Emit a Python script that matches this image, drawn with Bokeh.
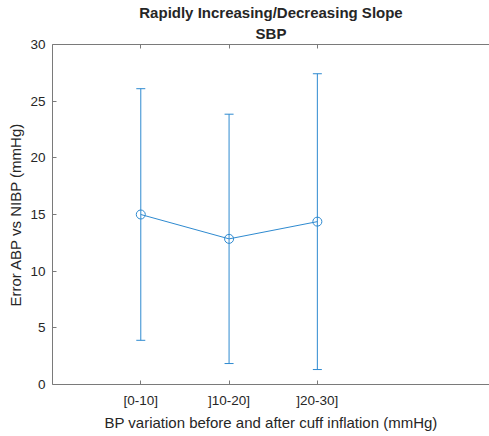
from bokeh.plotting import figure
from bokeh.models import (ColumnDataSource, Whisker, TeeHead, FixedTicker, LinearAxis,
                          Range1d, Title)
from bokeh.embed import file_html
from bokeh.resources import INLINE

categories = ["[0-10]", "]10-20]", "]20-30]"]
positions = [1, 2, 3]
mean_error = [15.0, 12.85, 14.37]
sd_error = [11.1, 11.0, 13.05]
y_ticks = [0, 5, 10, 15, 20, 25, 30]
title_lines = ["Rapidly Increasing/Decreasing Slope", "SBP"]

BLUE = "#2E8AD0"
AX = "#7a7a7a"
TXT = "#262626"
FONT = "Liberation Sans"

src = ColumnDataSource(dict(
    x=positions, y=mean_error,
    upper=[m + s for m, s in zip(mean_error, sd_error)],
    lower=[m - s for m, s in zip(mean_error, sd_error)],
))

p = figure(width=489, height=436, output_backend="svg", toolbar_location=None,
           x_range=Range1d(0, 4.95), y_range=Range1d(0, 30),
           min_border_left=52, min_border_right=0, min_border_top=44, min_border_bottom=52)
p.outline_line_color = None
p.xgrid.visible = False
p.ygrid.visible = False
p.background_fill_color = "white"
p.border_fill_color = "white"

for ax in (p.xaxis[0], p.yaxis[0]):
    ax.axis_line_color = AX
    ax.major_tick_line_color = AX
    ax.major_tick_out = 0
    ax.major_tick_in = 4
    ax.minor_tick_line_color = None
    ax.major_label_text_font = FONT
    ax.major_label_text_font_size = "13.5px"
    ax.major_label_text_color = TXT
    ax.axis_label_text_font = FONT
    ax.axis_label_text_font_size = "15px"
    ax.axis_label_text_font_style = "normal"
    ax.axis_label_text_color = TXT

p.xaxis.ticker = FixedTicker(ticks=positions)
p.xaxis.major_label_overrides = {pos: c for pos, c in zip(positions, categories)}
p.xaxis.major_label_standoff = 8
p.xaxis.axis_label = "BP variation before and after cuff inflation (mmHg)"
p.xaxis.axis_label_standoff = 3

p.yaxis.ticker = FixedTicker(ticks=y_ticks)
p.yaxis.major_label_standoff = 7
p.yaxis.axis_label = "Error ABP vs NIBP (mmHg)"
p.yaxis.axis_label_standoff = 3

top = LinearAxis(ticker=FixedTicker(ticks=positions), axis_line_color=AX,
                 major_tick_line_color=AX, major_tick_out=0, major_tick_in=4,
                 minor_tick_line_color=None,
                 major_label_overrides={pos: "" for pos in positions},
                 major_label_standoff=0)
p.add_layout(top, "above")

p.add_layout(Title(text=title_lines[1], align="center", text_font=FONT, text_font_size="15px",
                   text_font_style="bold", text_color=TXT, standoff=5, padding=0), "above")
p.add_layout(Title(text=title_lines[0], align="center", text_font=FONT,
                   text_font_size="15px", text_font_style="bold", text_color=TXT,
                   standoff=0, padding=0), "above")

p.add_layout(Whisker(source=src, base="x", upper="upper", lower="lower",
                     line_color=BLUE, line_width=1,
                     upper_head=TeeHead(size=9, line_color=BLUE, line_width=1),
                     lower_head=TeeHead(size=9, line_color=BLUE, line_width=1)))
p.line("x", "y", source=src, line_color=BLUE, line_width=1)
p.scatter("x", "y", source=src, marker="circle", size=9, fill_color=None,
          line_color=BLUE, line_width=1)

open("out.html", "w").write(file_html(p, INLINE))
